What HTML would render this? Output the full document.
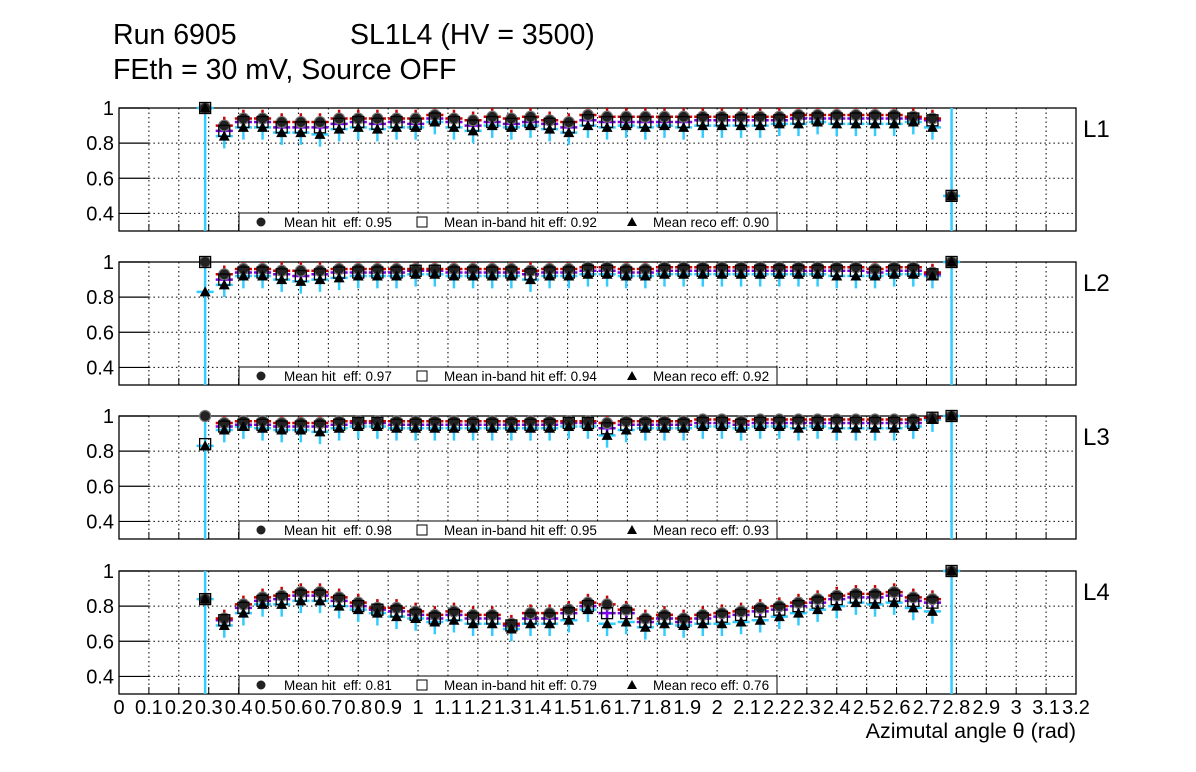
<!DOCTYPE html>
<html><head><meta charset="utf-8"><style>
html,body{margin:0;padding:0;background:#fff;}
svg{display:block;font-family:"Liberation Sans",sans-serif;}
</style></head><body>
<svg id="c" width="1196" height="772" xmlns="http://www.w3.org/2000/svg">
<text x="113" y="44" font-size="28.5">Run 6905</text>
<text x="350" y="44" font-size="28.5">SL1L4 (HV = 3500)</text>
<text x="113" y="79" font-size="28.5">FEth = 30 mV, Source OFF</text>
<text x="1076" y="738" font-size="21.5" text-anchor="end">Azimutal angle θ (rad)</text>
</svg>
<script>
const layers=["L1","L2","L3","L4"];
const meanHit=["0.95","0.97","0.98","0.81"];
const meanInband=["0.92","0.94","0.95","0.79"];
const meanReco=["0.90","0.92","0.93","0.76"];
const xTicks=["0","0.1","0.2","0.3","0.4","0.5","0.6","0.7","0.8","0.9","1","1.1","1.2","1.3","1.4","1.5","1.6","1.7","1.8","1.9","2","2.1","2.2","2.3","2.4","2.5","2.6","2.7","2.8","2.9","3","3.1","3.2"];
const yTicks=[0.4,0.6,0.8,1];
const hitL1=[1,0.90,0.94,0.94,0.92,0.92,0.92,0.94,0.94,0.94,0.94,0.94,0.96,0.94,0.93,0.95,0.94,0.95,0.93,0.92,0.96,0.95,0.95,0.95,0.95,0.95,0.95,0.95,0.95,0.95,0.95,0.96,0.96,0.96,0.96,0.96,0.96,0.95,0.94,0.5];
const inbL1=[1,0.87,0.92,0.92,0.89,0.89,0.89,0.91,0.92,0.91,0.92,0.91,0.94,0.92,0.90,0.92,0.91,0.92,0.91,0.89,0.93,0.92,0.92,0.92,0.92,0.92,0.93,0.93,0.93,0.93,0.93,0.94,0.94,0.94,0.94,0.94,0.94,0.94,0.93,0.5];
const recL1=[1,0.84,0.89,0.89,0.86,0.86,0.85,0.88,0.89,0.88,0.89,0.89,0.92,0.89,0.87,0.90,0.89,0.90,0.88,0.86,0.90,0.89,0.90,0.89,0.90,0.89,0.90,0.90,0.90,0.90,0.91,0.91,0.92,0.91,0.91,0.91,0.91,0.92,0.89,0.5];
const hitL2=[1,0.93,0.96,0.96,0.95,0.95,0.95,0.96,0.96,0.96,0.96,0.96,0.96,0.96,0.96,0.96,0.96,0.95,0.96,0.96,0.97,0.97,0.96,0.96,0.97,0.97,0.97,0.97,0.97,0.97,0.97,0.97,0.97,0.97,0.97,0.96,0.97,0.97,0.94,1];
const inbL2=[1,0.90,0.94,0.94,0.93,0.92,0.93,0.94,0.94,0.94,0.94,0.95,0.95,0.94,0.94,0.94,0.94,0.93,0.94,0.94,0.95,0.95,0.94,0.94,0.95,0.95,0.95,0.95,0.95,0.95,0.95,0.95,0.95,0.95,0.95,0.94,0.95,0.95,0.93,1];
const recL2=[0.83,0.87,0.92,0.92,0.90,0.89,0.90,0.91,0.92,0.92,0.92,0.93,0.93,0.92,0.92,0.92,0.92,0.90,0.92,0.92,0.93,0.93,0.92,0.92,0.93,0.93,0.93,0.93,0.93,0.93,0.93,0.93,0.93,0.92,0.92,0.92,0.93,0.93,0.92,1];
const hitL3=[1,0.96,0.97,0.97,0.96,0.96,0.96,0.97,0.97,0.97,0.97,0.97,0.97,0.97,0.97,0.97,0.97,0.97,0.97,0.97,0.97,0.96,0.97,0.97,0.97,0.97,0.98,0.98,0.97,0.98,0.98,0.98,0.98,0.98,0.98,0.98,0.98,0.98,0.99,1];
const inbL3=[0.84,0.94,0.95,0.95,0.94,0.94,0.94,0.95,0.96,0.96,0.95,0.95,0.95,0.95,0.95,0.95,0.95,0.95,0.95,0.96,0.96,0.93,0.95,0.95,0.95,0.95,0.96,0.96,0.95,0.96,0.96,0.96,0.96,0.96,0.96,0.96,0.96,0.96,0.99,1];
const recL3=[0.83,0.92,0.94,0.93,0.92,0.92,0.91,0.93,0.94,0.94,0.93,0.93,0.93,0.93,0.93,0.93,0.93,0.93,0.93,0.94,0.94,0.89,0.92,0.93,0.93,0.93,0.94,0.94,0.93,0.94,0.94,0.93,0.94,0.93,0.93,0.93,0.93,0.94,0.98,1];
const hitL4=[0.84,0.73,0.81,0.85,0.86,0.88,0.88,0.85,0.82,0.79,0.79,0.77,0.75,0.77,0.75,0.75,0.70,0.76,0.76,0.78,0.82,0.81,0.78,0.73,0.75,0.73,0.75,0.76,0.77,0.79,0.80,0.82,0.84,0.86,0.87,0.87,0.88,0.85,0.84,1];
const inbL4=[0.84,0.72,0.79,0.83,0.84,0.86,0.86,0.83,0.80,0.78,0.77,0.75,0.73,0.75,0.73,0.73,0.69,0.73,0.73,0.76,0.80,0.76,0.76,0.71,0.73,0.71,0.73,0.74,0.75,0.77,0.78,0.80,0.82,0.84,0.85,0.85,0.86,0.83,0.82,1];
const recL4=[0.84,0.69,0.76,0.81,0.81,0.83,0.83,0.80,0.78,0.76,0.74,0.73,0.71,0.72,0.70,0.70,0.67,0.70,0.70,0.72,0.78,0.70,0.71,0.68,0.70,0.69,0.70,0.70,0.71,0.72,0.74,0.76,0.78,0.80,0.82,0.81,0.82,0.79,0.77,1];
const hitData=[hitL1,hitL2,hitL3,hitL4];
const inbData=[inbL1,inbL2,inbL3,inbL4];
const recData=[recL1,recL2,recL3,recL4];
const binStart=0.256, binWidth=0.064;

const NS="http://www.w3.org/2000/svg";
const svg=document.getElementById('c');
const X0=119,X1=1076,XMAX=3.2;
const tops=[108,262,416,571],H=123,YMIN=0.3,YMAX=1.0;
function sx(v){return X0+(X1-X0)*v/XMAX;}
function mk(tag,attrs,parent){const e=document.createElementNS(NS,tag);for(const k in attrs)e.setAttribute(k,attrs[k]);(parent||svg).appendChild(e);return e;}

tops.forEach((top,p)=>{
  const g=mk('g',{});
  
  
  const sy=v=>top+H*(YMAX-v)/(YMAX-YMIN);
  for(let i=1;i<=31;i++){const l=mk('line',{x1:sx(i/10),x2:sx(i/10),y1:top,y2:top+H,stroke:'#000','stroke-width':1,'stroke-dasharray':'1.5,3'},g);
    
    mk('line',{x1:sx(i/10),x2:sx(i/10),y1:top+H-7,y2:top+H,stroke:'#000','stroke-width':1},g);}
  yTicks.forEach(t=>{
    const y=sy(t);
    if(t<1){const l=mk('line',{x1:sx(0.1),x2:X1,y1:y,y2:y,stroke:'#000','stroke-width':1,'stroke-dasharray':'1.5,3'},g);
      }
    mk('line',{x1:X0,x2:X0+30,y1:y,y2:y,stroke:'#000','stroke-width':1.2},g);
    const tx=mk('text',{x:114,y:y+7,'font-size':20,'text-anchor':'end'},g);tx.textContent=(t===1?'1':t.toFixed(1));
    
  });
  const fr=mk('rect',{x:X0,y:top,width:X1-X0,height:H,fill:'none',stroke:'#000','stroke-width':1.3},g);
  
  const lab=mk('text',{x:1083,y:top+29,'font-size':24},g);lab.textContent=layers[p];
  
  const hit=hitData[p],inb=inbData[p],rec=recData[p],n=hit.length;
  const cx=i=>sx(binStart+binWidth*(i+0.5));
  for(let i=0;i<n;i++){
    const x=cx(i),xl=sx(binStart+binWidth*i)+1,xr=sx(binStart+binWidth*(i+1))-1;
    const special=(i===0||i===n-1);
    if(special){
      const l=mk('line',{x1:x,x2:x,y1:top,y2:top+H,stroke:'#33ccff','stroke-width':2.5},g);
      
    } else {
      let l=mk('line',{x1:x,x2:x,y1:Math.max(top,sy(rec[i]+0.06)),y2:sy(rec[i]-0.07),stroke:'#33ccff','stroke-width':2.5},g);
      
      l=mk('line',{x1:x,x2:x,y1:Math.max(top,sy(inb[i]+0.05)),y2:sy(inb[i]-0.03),stroke:'#7a00e6','stroke-width':2.5},g);
      
      l=mk('line',{x1:x,x2:x,y1:Math.max(top,sy(hit[i]+0.05)),y2:sy(hit[i]-0.02),stroke:'#cc0000','stroke-width':2.5},g);
      
    }
    [[rec,'#33ccff','reco-step'],[inb,'#7a00e6','inband-step'],[hit,'#cc0000','hit-step']].forEach(([arr,col,nm])=>{
      if(special && nm!=='reco-step') return;
      const l=mk('line',{x1:xl,x2:xr,y1:sy(arr[i]),y2:sy(arr[i]),stroke:col,'stroke-width':2.5},g);
      
    });
  }
  for(let i=0;i<n;i++){
    const x=cx(i);
    const c=mk('circle',{cx:x,cy:sy(hit[i]),r:5.5,fill:'#222',stroke:'#777','stroke-width':1.2},g);
    
    const s=mk('rect',{x:x-5.5,y:sy(inb[i])-5.5,width:11,height:11,fill:'none',stroke:'#000','stroke-width':1.3},g);
    
    const yr=sy(rec[i]);
    const t=mk('polygon',{points:`${x-5.5},${yr+4.5} ${x+5.5},${yr+4.5} ${x},${yr-5.5}`,fill:'#000'},g);
    
  }
  const ly=top+H-18;
  const lg=mk('g',{},g);
  
  mk('rect',{x:239,y:ly,width:538,height:18,fill:'#fff',stroke:'#000','stroke-width':1},lg);
  const e1=mk('circle',{cx:261,cy:ly+9,r:4.5,fill:'#222'},lg);
  let t=mk('text',{x:284,y:ly+14,'font-size':13.5,'xml:space':'preserve'},lg);t.style.whiteSpace='pre';t.textContent='Mean hit  eff: '+meanHit[p];
  
  const e2=mk('rect',{x:417,y:ly+4,width:10,height:10,fill:'none',stroke:'#000'},lg);
  t=mk('text',{x:444,y:ly+14,'font-size':13.5},lg);t.textContent='Mean in-band hit eff: '+meanInband[p];
  
  const e3=mk('polygon',{points:`${627},${ly+13} ${637},${ly+13} ${632},${ly+4}`,fill:'#000'},lg);
  t=mk('text',{x:653,y:ly+14,'font-size':13.5},lg);t.textContent='Mean reco eff: '+meanReco[p];
  
});
xTicks.forEach((lbl,i)=>{
  const t=mk('text',{x:sx(i/10),y:714,'font-size':20,'text-anchor':'middle'});t.textContent=lbl;
  
  
});
</script>
</body></html>
